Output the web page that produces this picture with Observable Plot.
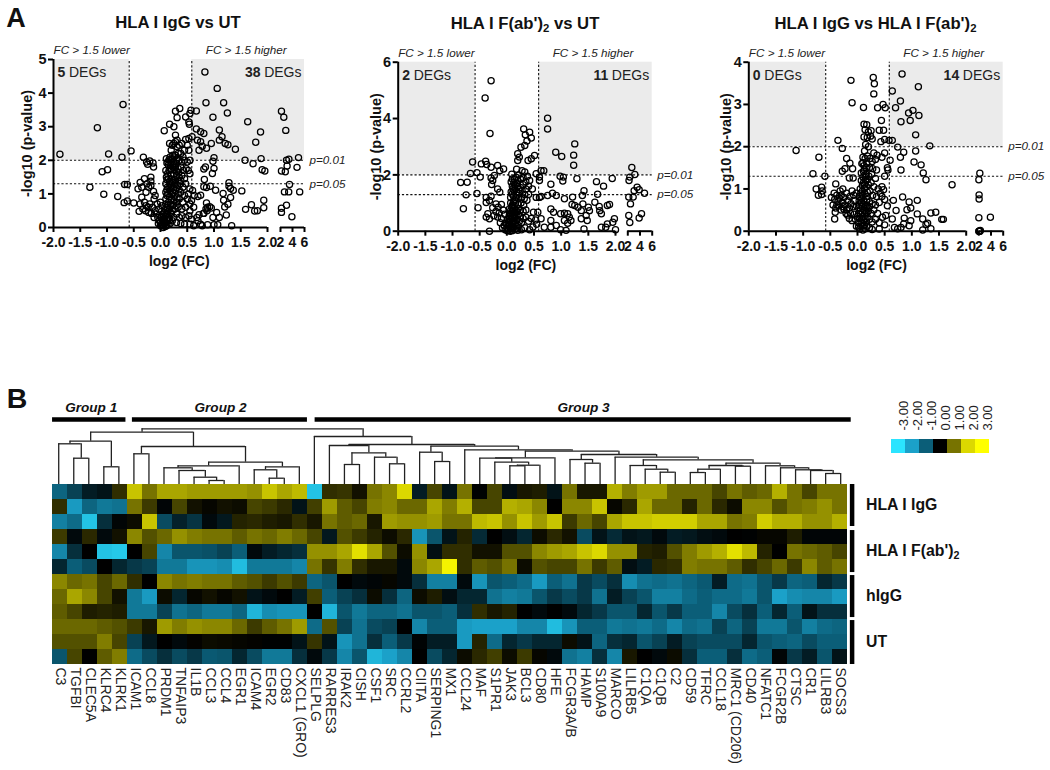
<!DOCTYPE html>
<html><head><meta charset="utf-8">
<script src="https://cdn.jsdelivr.net/npm/d3@7"></script>
<script src="https://cdn.jsdelivr.net/npm/@observablehq/plot@0.6"></script>
<style>
html,body{margin:0;padding:0;background:#fff;width:1050px;height:770px;overflow:hidden;font-family:"Liberation Sans",Arial,sans-serif;color:#111}
.box{position:absolute}
.box svg{display:block;background:transparent;overflow:visible}
.t{position:absolute;white-space:nowrap;font-weight:bold;transform:translate(-50%,-50%);line-height:1}
sub{font-size:.68em;vertical-align:baseline;position:relative;top:.3em}
</style></head><body>
<script>
const F="Liberation Sans, Arial, sans-serif";

// ---------- Panel A data: [log2 FC, -log10 p] ----------
const igGvsUT=[[-1.88,2.18],[-1.18,2.97],[-.7,3.66],[-.97,2.19],[-.72,2.09],[-.55,2.28],[-1.09,1.66],[-.99,1.72],[-1.32,1.2],[-1.06,.99],[-.8,.92],[-.67,1.28],[-.62,1.28],[-.68,.74],[-.62,.79],[-.5,.73],
[-.32,2.09],[-.26,1.95],[-.24,1.88],[-.2,1.98],[-.14,1.92],[-.13,1.8],[-.18,1.5],[-.18,1.38],[-.3,1.45],[-.38,1.34],[-.42,1.15],[-.35,1.2],[-.25,1.3],[-.18,1.25],[-.27,1.05],[-.22,1.2],[-.13,1.07],[-.1,.95],[-.12,.85],[-.35,.9],[-.3,.75],[-.38,.7],[-.4,.48],[-.33,.55],[-.28,.5],[-.23,.6],[-.2,.7],[-.15,.6],[-.1,.5],[-.27,.65],[-.22,.45],[-.17,.42],[-.08,.4],[-.05,.3],[-.12,.3],[-.03,.55],[0,.75],[.03,.65],[-.06,.7],[-.02,.2],[0,.15],[.02,.1],[.03,.05],[.05,0],[.07,.12],[.09,.03],[.05,.3],[.08,.45],
[.83,4.63],[1.06,4.14],[.85,3.71],[1.18,3.71],[1.25,3.41],[.98,3.28],[1.1,2.9],[1.63,3.15],[1.87,2.84],[1.78,2.54],[2.16,3.46],[2.55,3.28],[2.88,2.89],[1.4,2.33],[1.15,2.7],[1.1,2.6],[1.21,2.5],[1.26,2.46],[.95,2.5],[.86,2.36],[.78,2.42],[.72,2.3],[.75,2.55],[.69,2.6],[.67,2.93],[.75,2.85],[.81,2.8],[.57,3.49],[.67,3.47],[.55,3.39],[.47,3.29],[.53,3.14],[.54,3.07],[.59,2.7],[.53,2.65],[.47,2.62],[.36,3.54],[.28,3.46],[.31,3.27],[.17,3.07],[.25,3],[.07,2.88],[.28,2.75],[.31,2.6],
[1.58,2],[1.73,1.9],[1.88,2.05],[1.9,1.72],[1.95,1.68],[2.16,1.68],[2.8,1.66],[3,2],[3.4,2.03],[5,2.08],[4.75,1.79],[3.1,1.83],[3.5,1.28],[2.66,1.06],[3.37,1.06],[5.2,1.06],[3,.66],[2.16,.57],[2.16,.45],[3.9,.32],[1.93,.81],[1.93,.59],[1.81,.5],[1.76,.49],[1.7,.68],[1.59,.54],[1.52,1.09],[1.33,.05],[1.28,1.33],[1.28,1.23],[1.31,1.16],[1.36,1.11],[1.17,1.01],[1.18,.81],[1.31,.89],[1.26,.69],[1.23,.37],[1.2,.61],[1,2.08],[.98,1.97],[1,1.76],[.97,1.61],[.84,1.8],[.81,1.74],[.82,1.43],[.81,1.21],[.86,1.19],[.93,1.23],[1.03,1.11],[.75,.96],[.7,.92],[.86,.73],[.92,.62],[.95,.58],[.87,.5],[.81,.42],
[.11,2.05],[.14,1.95],[.17,2.5],[.2,2.3],[.22,2.45],[.25,2.5],[.28,2.55],[.31,2.4],[.35,2.45],[.4,2.5],[.45,2.3],[.5,2.45],[.53,2.3],[.42,2.1],[.38,2.2],[.33,2.2],[.28,2.15],[.23,2.15],[.18,2.1],[.15,1.85],[.2,1.95],[.25,1.95],[.3,2],[.35,2],[.4,1.95],[.45,2],[.5,1.95],[.55,2],[.1,1.7],[.13,1.6],[.18,1.75],[.23,1.8],[.28,1.8],[.33,1.75],[.38,1.8],[.43,1.7],[.48,1.75],[.52,1.7],[.11,1.5],[.15,1.45],[.2,1.55],[.25,1.6],[.3,1.55],[.35,1.5],[.4,1.55],[.45,1.45],[.55,1.6],[.1,1.3],[.13,1.2],[.18,1.3],[.22,1.35],[.27,1.3],[.32,1.25],[.37,1.3],[.42,1.2],[.47,1.3],[.1,1.05],[.14,1],[.18,1.1],[.23,1.05],[.28,1.1],[.33,1],[.38,1.05],[.45,.95],[.52,1],[.55,1.15],[.6,1.1],[.1,.85],[.15,.75],[.2,.85],[.25,.8],[.3,.75],[.35,.85],[.42,.75],[.5,.85],[.55,.7],[.58,.8],[.63,.95],[.12,.6],[.17,.55],[.22,.65],[.27,.55],[.33,.6],[.4,.55],[.47,.6],[.55,.5],[.62,.6],[.12,.4],[.15,.3],[.2,.42],[.25,.3],[.3,.4],[.35,.3],[.4,.35],[.47,.3],[.53,.35],[.58,.25],[.13,.2],[.18,.12],[.22,.2],[.3,.15],[.38,.12],[.45,.1],[.55,.1],[.62,.05],[.7,.2],[.75,.1],[.78,.05],[.68,.3],[.72,.38],[.8,.42],[.85,.55],[.88,.6],[.98,.3],[1.05,.45],[1.1,.3],[1,.08],[1.07,.08],[.88,.08],
[.12,1.92],[.16,2.02],[.19,1.85],[.21,2.05],[.24,1.88],[.26,2.1],[.29,1.9],[.32,2.08],[.16,1.7],[.2,1.72],[.25,1.72],[.3,1.68],[.34,1.62],[.12,1.42],[.17,1.38],[.21,1.44],[.24,1.4],[.28,1.42],[.33,1.38],[.38,1.4],[.12,1.12],[.16,1.18],[.2,1.2],[.25,1.18],[.3,1.18],[.35,1.12],[.12,.95],[.17,.92],[.21,.98],[.26,.92],[.31,.88],[.1,.7],[.14,.66],[.19,.7],[.24,.68],[.29,.65],[.09,.55],[.14,.48],[.18,.45],[.22,.5],[.05,.4],[.09,.33],[.12,.28],[.17,.22],[.03,.25],[.06,.18],[.1,.15],[.14,.08],[.06,.06],[.11,.05],[.01,.32],[.02,.48],[-.04,.12],[.0,.05],[.07,.25],[.1,.4]];

const fabVsUT=[[-.29,5.34],[-.4,4.73],[-.31,3.47],[.75,4.01],[.75,3.63],[1.25,3.1],[1.23,2.7],[1.23,2.34],[.9,2.8],[1.01,2.65],[.31,3.63],[.42,3.51],[.45,3.31],[.34,3.42],[.37,3.2],[.26,2.98],[.2,2.75],[.33,3.04],[.51,2.69],[.45,2.57],[.39,2.51],[.23,2.63],[.2,2.51],
[-.63,2.46],[-.39,2.48],[-.47,2.39],[-.37,2.37],[-.29,2.27],[-.17,2.33],[-.13,2.15],[-.06,2.21],[-.67,2.05],[-.55,2.08],[-.49,1.92],[-.29,1.89],[-.23,1.98],[-.85,1.73],[-.73,1.74],[-.75,1.29],[-.55,1.34],[-.8,.8],[-.53,.83],[-.26,1.8],[-.28,1.66],[-.32,0],[-.38,1.2],[-.38,1.02],[-.29,1.24],[-.17,1.5],[-.13,1.38],[-.32,1.09],[-.2,.97],[-.26,.83],[-.35,.62],[-.38,.5],[-.32,.44],[-.16,.85],[-.1,.95],[-.2,.7],[-.14,.65],[-.07,.75],[-.24,.55],[-.17,.5],[-.1,.45],[-.04,.6],[-.12,.3],[-.05,.2],[0,.1],[.02,.3],[.04,.45],[.03,.05],[.06,0],[.08,.15],[.1,.02],
[2.66,2.26],[3.15,2.01],[2.33,1.92],[2.2,1.8],[3.53,1.56],[3.86,1.47],[3.04,1.44],[4.74,1.35],[2.88,1.21],[2.16,1.21],[2.44,.97],[2.16,.56],[2.33,.31],[4.25,.62],[3.86,.47],[2,.05],
[1.94,1.87],[1.65,1.76],[1.78,1.6],[1.67,1.31],[1.62,1.03],[1.7,.88],[1.71,.73],[1.74,.62],[1.42,1.44],[1.39,1.27],[1.21,1.21],[1.29,1.86],[.98,1.95],[1.04,1.92],[1.03,1.78],[.81,1.67],[.63,2.15],[.68,2.15],[.6,1.92],[.6,1.8],[.54,2.04],[.54,1.2],[.6,1.2],[.63,1.23],[.75,1.27],[.84,1.35],[.91,1.27],[1.06,1.15],[1.2,.95],[1.25,.91],[1.4,.97],[1.31,.85],[1.37,.73],[1.5,.85],[1.52,.73],[1.46,.56],[1.48,.38],[1.37,.44],[1.89,.95],[1.85,.91],[1.98,.44],[1.95,.32],[1.85,.26],[1.82,.14],[1.74,.14],
[.81,.79],[.86,.67],[.99,.62],[1.06,.64],[1.12,.62],[1.15,.5],[1.18,.38],[1.12,.28],[1.06,.38],[.91,.2],[.81,.38],[.81,.14],[.99,.05],[1.09,.03],[1.42,.08],[.69,.14],[.63,.44],[.57,.67],[.49,.67],[.53,.4],[.45,.45],[.4,.35],[.35,.5],[.55,.25],[.48,.15],[.42,.05],[.33,.12],[.27,.05],
[.09,2.02],[.18,2.2],[.22,2],[.28,2.15],[.33,2.1],[.38,1.95],[.14,1.85],[.2,1.8],[.25,1.85],[.3,1.9],[.35,1.75],[.42,1.8],[.08,1.75],[.1,1.6],[.15,1.65],[.2,1.6],[.25,1.55],[.3,1.65],[.35,1.5],[.4,1.6],[.47,1.5],[.08,1.4],[.13,1.45],[.18,1.4],[.23,1.35],[.28,1.45],[.33,1.3],[.4,1.3],[.07,1.2],[.12,1.25],[.17,1.2],[.22,1.15],[.27,1.2],[.32,1.15],[.37,1.1],[.07,1],[.12,1.05],[.16,.98],[.21,.95],[.26,1],[.31,.92],[.05,.8],[.09,.85],[.13,.8],[.17,.75],[.21,.8],[.25,.75],[.3,.7],[.35,.75],[.05,.62],[.09,.65],[.13,.6],[.17,.55],[.21,.6],[.25,.52],[.3,.45],[.07,.42],[.11,.45],[.15,.38],[.19,.42],[.23,.35],[.27,.3],[.13,.22],[.17,.18],[.21,.2],[.15,.07],[.2,.03],
[.1,1.85],[.13,1.72],[.17,1.92],[.11,1.5],[.15,1.52],[.19,1.7],[.22,1.48],[.1,1.32],[.14,1.12],[.19,1.28],[.1,.92],[.13,.92],[.07,.72],[.11,.72],[.15,.68],[.19,.68],[.04,.52],[.07,.55],[.1,.52],[.14,.5],[.01,.42],[.05,.35],[.09,.3],[.12,.32],[.16,.28],[-.02,.28],[.02,.18],[.05,.22],[.08,.08],[.12,.12],[-.08,.12],[-.03,.05],[.01,.02],[.18,.09]];

const igGvsFab=[[.29,3.64],[.31,3.49],[-.12,3.57],[.82,3.72],[1.12,3.42],[.64,3.32],[.3,3.25],[.79,3.08],[.47,3],[.11,2.93],[-.1,3.04],[.37,2.92],[.51,2.92],[.7,2.92],[.94,2.8],[1.02,2.86],[.97,2.62],[1.13,2.74],[.8,2.59],[.44,2.62],[.12,2.53],[.4,2.39],[.48,2.39],[1.07,2.28],[.5,2.17],[.58,2.15],[.64,2.15],[.43,2.12],[-.36,2.15],[-.28,1.96],[1.33,2.02],[.74,1.99],[.85,1.87],[.79,1.75],[1.07,1.9],[1.04,1.64],[1.17,1.57],[1.21,1.38],[1.26,1.22],[1.74,1.1],[.8,1.45],[-1.13,1.91],[-.71,1.75],[-.82,1.36],[-.6,1.3],[-.76,1],[-.66,1.04],[-.65,.95],[-.72,.85],[-.66,.87],[-.4,1.12],[-.2,1.72],[-.14,1.61],[-.23,1.48],[-.28,1.42],[-.09,1.48],[-.15,1.26],[-.08,1.26],
[2.17,1.37],[2.01,1.22],[2.05,.86],[2.05,.76],[2.01,.32],[3.9,.33],[2.01,0],[2.05,0],[2.1,0],[2.2,0],[2.25,.02],
[.83,.81],[.95,.69],[1.1,.73],[.66,.73],[.71,.49],[.98,.55],[.91,.51],[1.1,.41],[1.35,.43],[1.44,.45],[1.55,.28],[1.58,.28],[1.2,.29],[1.29,.19],[1.26,.16],[.98,.25],[.86,.31],[.85,.17],[.95,.13],[1.35,.06],[1.2,.03],[.64,.29],[.8,.09],[.68,.09],[.74,.06],[.52,.37],[.46,.33],[.37,.42],
[.17,2.52],[.14,2.4],[.2,2.35],[.25,2.38],[.12,2.23],[.18,2.22],[.24,2.25],[.27,2.18],[.15,2.05],[.2,2],[.13,1.9],[.3,1.85],[.36,1.8],[.45,1.75],[.5,1.85],[.6,1.68],[.55,1.5],[.56,1.45],[.5,1.3],[.1,1.75],[.14,1.72],[.18,1.78],[.23,1.72],[.27,1.65],[.33,1.7],[.08,1.6],[.12,1.55],[.17,1.6],[.22,1.5],[.28,1.48],[.35,1.45],[.07,1.38],[.11,1.42],[.16,1.35],[.21,1.3],[.26,1.35],[.33,1.25],[.07,1.2],[.11,1.15],[.15,1.22],[.2,1.1],[.25,1.15],[.3,1.05],[.38,1],[.45,1.05],[.05,1],[.09,.95],[.13,1.02],[.18,.92],[.23,.95],[.28,.85],[.35,.82],[.42,.9],[.48,.98],[.45,.82],[.04,.82],[.08,.78],[.12,.72],[.17,.75],[.22,.7],[.27,.65],[.33,.62],[.4,.68],[.5,.75],[.55,.6],[.04,.62],[.08,.58],[.12,.5],[.16,.55],[.2,.48],[.25,.42],[.3,.5],[.06,.4],[.1,.35],[.14,.3],[.18,.34],[.22,.28],[.27,.22],[.33,.28],[.4,.2],[.5,.15],[.08,.2],[.12,.14],[.17,.12],[.22,.08],[.1,.03],[.27,.04],[.4,.05],
[-.43,.9],[-.48,.8],[-.42,.75],[-.38,.85],[-.32,.95],[-.27,1],[-.3,.85],[-.25,.8],[-.2,.9],[-.1,.95],[-.14,.82],[-.07,.85],[-.02,.9],[-.36,.7],[-.45,.62],[-.4,.55],[-.34,.6],[-.28,.68],[-.23,.62],[-.18,.72],[-.12,.65],[-.05,.72],[-.3,.5],[-.41,.45],[-.42,.29],[-.25,.52],[-.2,.5],[-.15,.55],[-.08,.58],[-.02,.6],[-.18,.38],[-.13,.42],[-.06,.4],[-.1,.25],[-.04,.28],[-.02,.12],[.02,.42],[.02,.2],[.04,.05],
[.1,1.62],[.13,1.45],[.16,1.5],[.1,1.28],[.14,1.28],[.18,1.22],[.09,1.08],[.13,1.12],[.16,1.05],[.06,.9],[.1,.85],[.14,.88],[.18,.82],[.03,.72],[.07,.68],[.1,.65],[.14,.62],[.18,.6],[.22,.58],[.02,.55],[.05,.48],[.09,.45],[.13,.42],[.17,.44],[0,.35],[.04,.3],[.08,.28],[.12,.24],[.16,.22],[.02,.1],[.06,.12],[.1,.12],[.14,.06],[-.33,.78],[-.38,.62],[-.26,.58],[-.21,.42],[-.15,.3]];

const xTicks=[-2,-1.5,-1,-.5,0,.5,1,1.5,2,2.0001,4,6];
const xLabels=["-2.0","-1.5","-1.0","-0.5","0.0","0.5","1.0","1.5","2.0","2","4","6"];
const fcCut=.585, p01=2, p05=1.3;

function volcano({left,points,xPx,yMax,yTicks,yTop,yBottom,degLow,degHigh,yLabelDx}){
  const width=350,height=280,x0=xPx[0],x6=xPx[3];
  const rects=[{x1:-2,x2:-fcCut},{x1:fcCut,x2:6}];
  const txt={fontFamily:F,fill:"#222"};
  const p=Plot.plot({
    width,height,marginTop:yTop,marginBottom:height-yBottom,marginLeft:x0,marginRight:width-x6,
    style:{background:"transparent",overflow:"visible"},
    x:{type:"linear",domain:[-2,2,2.0001,6],range:xPx},
    y:{domain:[0,yMax]},
    marks:[
      Plot.rect(rects,{x1:"x1",x2:"x2",y1:p01,y2:yMax,fill:"#ebebeb"}),
      Plot.ruleY([p01,p05],{x1:-2,x2:6,stroke:"#111",strokeWidth:1.1,strokeDasharray:"2.2,2"}),
      Plot.ruleX([-fcCut,fcCut],{y1:0,y2:yMax,stroke:"#111",strokeWidth:1.1,strokeDasharray:"2.2,2"}),
      Plot.dot(points,{x:d=>d[0],y:d=>d[1],r:3.1,stroke:"#000",strokeWidth:1.25,fill:"none"}),
      Plot.ruleY([0],{x1:-2,x2:2,stroke:"#000",strokeWidth:2}),
      Plot.ruleY([0],{x1:2.0001,x2:6,stroke:"#000",strokeWidth:2}),
      Plot.ruleX([-2],{y1:0,y2:yMax,stroke:"#000",strokeWidth:2}),
      Plot.axisX({ticks:xTicks,tickFormat:d=>xLabels[xTicks.indexOf(d)],tickSize:5,tickPadding:5,strokeWidth:2,stroke:"#000",fontSize:14,fontWeight:"bold",fontFamily:F,fill:"#111",label:null}),
      Plot.axisY({ticks:yTicks,tickFormat:d=>String(d),tickSize:5,tickPadding:2,strokeWidth:2,stroke:"#000",fontSize:14.5,fontWeight:"bold",fontFamily:F,fill:"#111",label:null}),
      Plot.text(["log2 (FC)"],{x:.35,y:0,dy:34,fontSize:14,fontWeight:"bold",...txt,fill:"#111"}),
      Plot.text(["-log10 (p-value)"],{x:-2,y:yMax/2,dx:yLabelDx,rotate:-90,fontSize:14.5,fontWeight:"bold",...txt,fill:"#111"}),
      Plot.text(["FC > 1.5 lower"],{x:-2,y:yMax,dy:-9,textAnchor:"start",fontSize:11.7,fontStyle:"italic",...txt}),
      Plot.text(["FC > 1.5 higher"],{x:fcCut,y:yMax,dx:14,dy:-9,textAnchor:"start",fontSize:11.7,fontStyle:"italic",...txt}),
      Plot.text(["p=0.01"],{x:6,y:p01,dx:5,textAnchor:"start",fontSize:11.7,fontStyle:"italic",...txt}),
      Plot.text(["p=0.05"],{x:6,y:p05,dx:5,textAnchor:"start",fontSize:11.7,fontStyle:"italic",...txt}),
      Plot.text([String(degLow)],{x:-2,y:yMax,dx:4,dy:13,textAnchor:"start",fontSize:14,fontWeight:"bold",...txt}),
      Plot.text(["DEGs"],{x:-2,y:yMax,dx:15.5,dy:13,textAnchor:"start",fontSize:14,...txt}),
      Plot.text([String(degHigh)],{x:6,y:yMax,dx:-44,dy:13,textAnchor:"end",fontSize:14,fontWeight:"bold",...txt}),
      Plot.text(["DEGs"],{x:6,y:yMax,dx:-3,dy:13,textAnchor:"end",fontSize:14,...txt})
    ]
  });
  place(p,left,0);
}
function place(node,left,top){
  const d=document.createElement("div");d.className="box";d.style.left=left+"px";d.style.top=top+"px";d.appendChild(node);document.body.appendChild(d);
}
function label(html,x,y,size,extra=""){
  const d=document.createElement("div");d.className="t";d.innerHTML=html;d.style.cssText=`left:${x}px;top:${y}px;font-size:${size}px;${extra}`;document.body.appendChild(d);
}

volcano({left:0,points:igGvsUT,xPx:[53,267,280,304],yMax:5,yTicks:[0,1,2,3,4,5],yTop:59,yBottom:227,degLow:5,degHigh:38,yLabelDx:-26});
volcano({left:350,points:fabVsUT,xPx:[47.7,265,277.3,301.7],yMax:6,yTicks:[0,2,4,6],yTop:61.7,yBottom:230.7,degLow:2,degHigh:11,yLabelDx:-22});
volcano({left:700,points:igGvsFab,xPx:[48.3,265.7,278.3,302.7],yMax:4,yTicks:[0,1,2,3,4],yTop:61.7,yBottom:230.7,degLow:0,degHigh:14,yLabelDx:-22});

label("A",16,18,27);
label("B",17,398,28.5);
label("HLA I IgG vs UT",178,23,16.7);
label("HLA I F(ab')<sub>2</sub> vs UT",525,24,16.7);
label("HLA I IgG vs HLA I F(ab')<sub>2</sub>",875.5,24,16.7);

// ---------- Panel B data ----------
const genes=["C3","TGFBI","CLEC5A","KLRC4","KLRK1","ICAM1","CCL8","PRDM1","TNFAIP3","IL1B","CCL3","CCL4","EGR1","ICAM4","EGR2","CD83","CXCL1 (GRO)","SELPLG","RARRES3","IRAK2","CISH","CSF1","SRC","CCRL2","CIITA","SERPING1","MX1","CCL24","MAF","S1PR1","JAK3","BCL3","CD80","HFE","FCGR3A/B","HAMP","S100A9","MARCO","LILRB5","C1QA","C1QB","C2","CD59","TFRC","CCL18","MRC1 (CD206)","CD40","NFATC1","FCGR2B","CTSC","CR1","LILRB3","SOCS3"];
const row1=[-1.1,-.7,-.3,-.2,.4,1.8,1,1.5,1.5,1.4,1.4,1.4,1.4,1.3,1.8,1.5,1.7,-2.5,.4,.45,.15,1,1.2,2,-.3,.6,-.2,1,-.02,.6,-.15,.2,.25,-.2,1,.2,.2,1.6,1.1,1.4,1.4,.9,.9,.9,.6,1,.8,.9,1.6,1,.6,1,1];
const row2=[.4,-1.9,-1.1,-1.4,-1.3,1,.5,-.05,.6,.15,.05,.15,.1,.6,.5,.35,-.2,.55,1.4,.8,.6,1.1,1.2,.9,.9,1.5,1.1,1.6,.6,.6,1.6,1.5,1.2,0,1.2,1.2,1.8,.05,.35,1.5,.9,.9,.3,.9,.35,.1,1.2,1.2,.7,1,1.1,1.3,1];
const row3=[-1.5,-1.2,-2.5,-.5,-.05,.1,1.8,-.8,-.35,-.55,-.1,-.25,.3,.35,.25,.2,.4,.2,1,.8,.9,.2,1.4,1.3,1.3,1.4,1,1,1.7,1.8,1.3,1.8,1.4,1.8,.5,.9,.6,1.5,1.8,1.8,1.9,1.9,1.9,1.5,1.5,1,1.1,1.9,1.6,1.6,1.3,1.3,1.6];
const row4=[.5,-.1,.35,-.1,.15,1.2,.7,.9,1.3,1.1,1,1,.8,1,.9,1.1,.9,.6,-.25,.7,.5,.3,.1,.35,-1.8,-.9,-.2,.3,-.45,0,-.15,-.4,.1,.35,.15,-.8,-.2,-.45,-.2,-.25,-.1,-.3,-.25,-.15,-.1,0,-.02,.05,.05,.25,-.05,-.05,-.05];
const row5=[-1.6,-.5,0,-2.5,-2.6,0,.6,-1.6,-.9,-.9,-.85,-.7,-1,-.1,-.3,-.4,-.5,1.3,1.3,1.5,2.2,1.5,.7,.1,1.3,-.15,.4,.4,.15,.15,.7,.7,1.2,1.4,1.5,1.8,2,1.3,1.3,.3,.25,.7,1.1,1.4,1.6,2.2,1.7,.3,0,1,.9,.8,.6];
const row6=[-.4,-1,-.8,0,-.4,-.6,-.7,-1.4,-1.4,-1.8,-1.8,-1.7,-2.4,-1.4,-1.4,-1.4,-1.6,1,.45,1.1,.4,.2,.2,-.1,1.2,1.5,2.7,.4,.8,.7,1,.1,.7,.6,.6,1,.5,.8,-.15,-.3,.35,.4,1.1,1,1,.8,.4,.6,.9,.5,1.2,.8,1];
const row7=[1.2,.9,1,.6,.9,.4,0,1.2,1,1.1,1,1,.8,.7,.5,.7,.5,-1.1,-.9,0,-.1,-.05,.05,-.1,-.5,-1.5,-1.5,-.1,-1.8,-.9,-1,-1.2,-1.9,-1,-1.3,-.6,-.8,-.5,-1.7,-1.3,-1.2,-1.3,-1.1,-.95,-.3,-1.2,-1.3,-.9,-.6,-1.1,-1,-.4,-.6];
const row8=[.9,1.5,1.2,.6,.15,-1.4,-1.9,.1,-.4,.05,.15,.05,.15,-.2,-.1,0,-.3,.55,-1,-.7,-.5,.1,-.5,-1.1,.1,.25,-.15,-.4,-.4,-1.3,-1.5,-1.4,-.9,-.6,-.8,-.6,-1.3,-.3,-.7,-.9,-1.5,-1.5,-1.2,-1,-1.2,-1.2,-1.4,-.9,-2,-1.7,-1.6,-1.6,-1.9];
const row9=[.8,.6,.25,.3,.25,-1.4,-1.4,-.7,-1.3,-1.1,-1.4,-1.4,-1.1,-2.3,-1.7,-1.8,-1.8,0,-2.3,-.9,-1.4,-1.1,-1.1,-1.3,-.9,-.9,-1,-.5,.4,.2,.3,0,-.1,0,-.1,-.4,-.6,-.9,-.9,-.4,-.9,-.6,-1,-1,-1.6,-.8,-.5,-1,-.4,-1,-.2,-.5,-.5];
const row10=[.9,.9,.9,.8,.7,.5,.2,1.4,1.1,1.3,1.2,1.2,.9,.5,.8,1,1.4,-1.2,.7,-.7,-1.3,-.8,-.7,0,-1.6,-1,-1,-1.9,-2,-2,-2,-1.6,-1.6,-2.4,-1.8,-1,-1,-1.4,-1.3,-1.4,-1.2,-1.6,-1.2,-1.3,-.7,-1.1,-.7,-1.4,-1.4,-.9,-1.5,-1.2,-1.1];
const row11=[.7,.7,.7,1.1,.6,-.7,-.25,0,-.1,.03,.1,.08,.05,.03,-.02,-.02,-.2,.45,-.2,-1.8,-1.3,-.5,-1,-.6,-.03,-.3,-.3,-1.9,.3,-1.2,-.4,-.6,-.4,-.4,.1,-.2,-1.1,-.5,-.4,-.9,-.7,-.3,-.7,-.8,-.8,-.8,-.4,-.9,-1,-1.1,-.8,-1,-1];
const row12=[-.9,.6,0,.8,1.1,-1.2,-.8,-.5,-.8,-.6,-.95,-.9,-.4,-.8,-1.4,-1.4,-.5,-.1,-.6,-1.6,-.9,-2.3,-2,-1.6,0,-.8,-.4,.1,.35,.55,.1,.5,.05,-.1,-1.3,-1.5,-.5,-1.6,.2,0,-.1,.1,-.5,-1,-1,-.5,-1.2,-1,-.05,-.6,-.3,-.9,-.2];
const rows=[row1,row2,row3,row4,row5,row6,row7,row8,row9,row10,row11,row12];
const colorDomain=[-3,-2,-1,0,1,2,3];
const colorRange=["#2be4ff","#1ba1c9","#0b5e78","#000000","#777300","#dcd800","#ffff00"];
const colorOpts={type:"linear",domain:colorDomain,range:colorRange,interpolate:"rgb"};
const cells=rows.flatMap((r,i)=>r.map((v,j)=>({gene:genes[j],row:i,v})));

const hx=[50.7,847.7];
// heatmap + gene labels
place(Plot.plot({
  width:1050,height:286,marginTop:0,marginBottom:106,marginLeft:hx[0],marginRight:1050-hx[1],
  style:{background:"transparent"},
  x:{type:"band",domain:genes,range:hx,padding:0,label:null},
  y:{type:"band",domain:rows.map((_,i)=>i),padding:0,axis:null,label:null},
  color:colorOpts,
  marks:[
    Plot.cell(cells,{x:"gene",y:"row",fill:"v",inset:0}),
    Plot.axisX({anchor:"bottom",tickSize:0,tickPadding:3,tickRotate:90,fontSize:14,fontFamily:F,fill:"#222",label:null})
  ]
}),0,484);

// dendrogram: nested [left,right,height]; leaves are column indices
const groupOne=[[0,[1,2,26.3],40.7],[3,4,17.7],43.3];
const groupTwo=[[5,6,30.7],[[[7,[8,[9,[10,11,4],7.3],14],16.7],12,18.7],[[13,[14,15,6.3],14.7],16,17.7],22.3],38];
const tailK=[47,[48,[49,[50,[51,52,11],14],14.7],16.7],18.7];
const tailJ=[[[42,43,12],44,15.3],[45,46,18.3],19];
const tailH=[38,[39,[40,41,12.3],15.3],19];
const tailF=[37,[tailH,[tailJ,tailK,21.3],24.7],27.3];
const tailE=[[34,[35,36,21.3],25],tailF,30];
const tailD=[[28,[29,[[30,31,18.7],32,19.3],22.3],26.3],33,26.7];
const partA=[18,[[19,20,20],[21,[22,23,20.7],27.3],31.7],39];
const partB=[[24,[25,26,23],32.3],[27,[tailD,tailE,33.3],34.7],38.3];
const groupThree=[17,[partA,partB,40],48];
const tree=[[groupOne,groupTwo,52.3],groupThree,55.7];
const hSegs=[],vSegs=[];
function walk(n){
  if(typeof n==="number")return {x:n,h:0};
  const a=walk(n[0]),b=walk(n[1]),h=n[2];
  hSegs.push({x1:a.x,x2:b.x,h});
  vSegs.push({x:a.x,h1:a.h,h2:h},{x:b.x,h1:b.h,h2:h});
  return {x:(a.x+b.x)/2,h};
}
walk(tree);
const groupBars=[{name:"Group 1",from:-.41,to:4.47,mid:2.16},{name:"Group 2",from:4.9,to:16.54,mid:10.76},{name:"Group 3",from:17.05,to:52.7,mid:34.9}];
place(Plot.plot({
  width:1050,height:104,marginTop:0,marginBottom:0,marginLeft:hx[0],marginRight:1050-hx[1],
  style:{background:"transparent"},
  x:{type:"linear",domain:[-.5,52.5],range:hx,axis:null},
  y:{type:"linear",domain:[0,104],axis:null},
  marks:[
    Plot.ruleX(vSegs,{x:"x",y1:"h1",y2:"h2",stroke:"#222",strokeWidth:1.3}),
    Plot.ruleY(hSegs,{y:"h",x1:"x1",x2:"x2",stroke:"#222",strokeWidth:1.3}),
    Plot.ruleY(groupBars,{y:65,x1:"from",x2:"to",stroke:"#000",strokeWidth:4.5}),
    Plot.text(groupBars,{x:"mid",y:77,text:"name",fontFamily:F,fontSize:13.6,fontWeight:"bold",fontStyle:"italic",fill:"#111"})
  ]
}),0,380);

// colour key
const keyValues=colorDomain;
place(Plot.plot({
  width:120,height:58.5,marginTop:44,marginBottom:0,marginLeft:8.6,marginRight:9,
  style:{background:"transparent",overflow:"visible"},
  x:{type:"band",domain:keyValues,padding:0,axis:null},
  y:{type:"band",domain:[0],padding:0,axis:null},
  color:colorOpts,
  marks:[
    Plot.cell(keyValues,{x:d=>d,y:()=>0,fill:d=>d}),
    Plot.text(keyValues,{x:d=>d,frameAnchor:"top",dy:-9,rotate:-90,textAnchor:"start",text:d=>d.toFixed(2),fontSize:13,fontFamily:F,fill:"#222"})
  ]
}),880,395);

// row group bars
const rowGroups=[{from:0,to:2.8},{from:3.07,to:5.87},{from:6.07,to:8.87},{from:9.07,to:12}];
place(Plot.plot({
  width:20,height:180,marginTop:0,marginBottom:0,marginLeft:0,marginRight:0,
  style:{background:"transparent"},
  x:{type:"linear",domain:[0,20],range:[0,20],axis:null},
  y:{type:"linear",domain:[0,12],range:[0,180],axis:null},
  marks:[Plot.ruleX(rowGroups,{x:3.6,y1:"from",y2:"to",stroke:"#000",strokeWidth:4.5})]
}),848,484);
const rowGroupNames=[["HLA I IgG",505],["HLA I F(ab')<sub>2</sub>",551],["hIgG",596],["UT",642]];
rowGroupNames.forEach(([n,y])=>{label(n,866,y,15.8,"transform:translate(0,-50%);");});
</script>
</body></html>
